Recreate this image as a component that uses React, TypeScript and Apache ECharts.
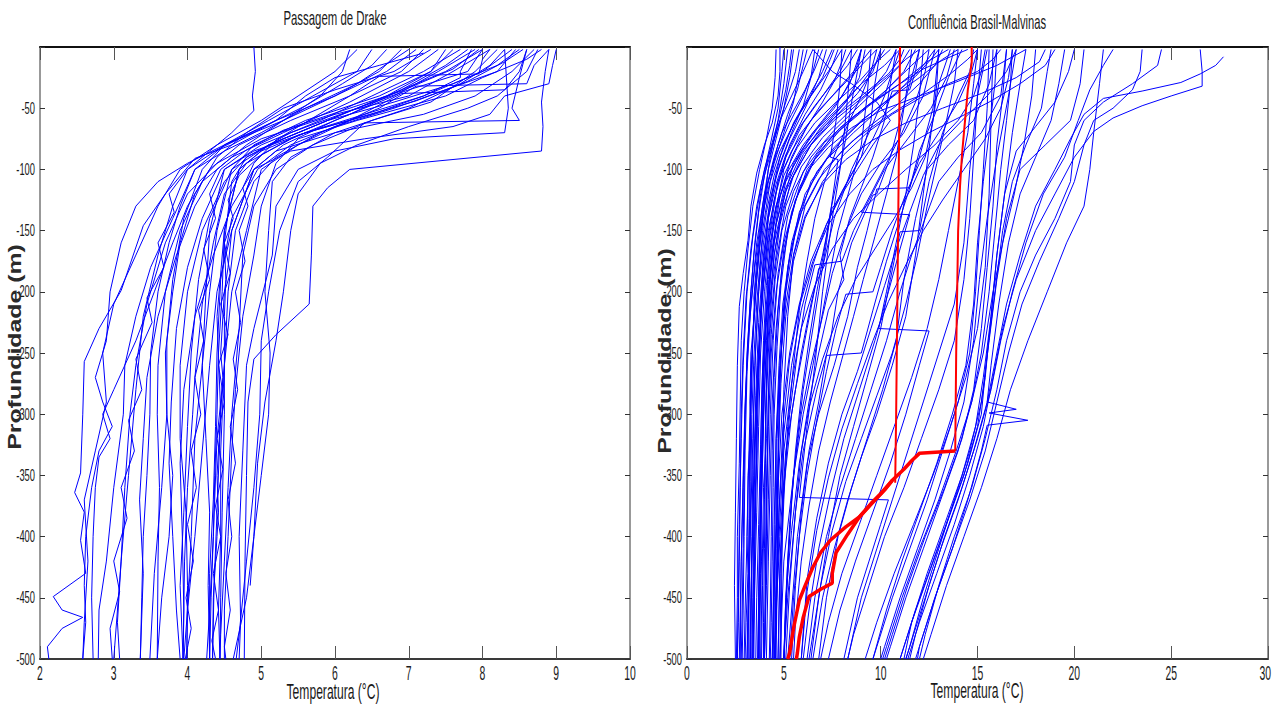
import React, { useEffect, useRef } from 'react';
import * as echarts from 'echarts';

// ---------- axis ranges / ticks ----------
const drakeTempTicks = [2, 3, 4, 5, 6, 7, 8, 9, 10];
const cbmTempTicks = [0, 5, 10, 15, 20, 25, 30];
const depthTicks = [-500, -450, -400, -350, -300, -250, -200, -150, -100, -50];
const depthMin = -500;
const depthMax = 0;
const depthStep = 50;

const leftTitle = 'Passagem de Drake';
const rightTitle = 'Confluência Brasil-Malvinas';
const xName = 'Temperatura (°C)';
const yName = 'Profundidade (m)';

// ---------- Passagem de Drake profiles: [temperature °C, depth m] ----------
const drakeProfiles: number[][][] = [
  [[8.9,-2],[8.85,-20],[8.8,-45],[8.82,-65],[8.8,-85],[6.2,-100],[5.9,-115],[5.7,-130],[5.68,-170],[5.65,-210],[5.2,-235],[4.9,-255],[4.82,-290],[4.8,-350],[4.78,-420],[4.77,-500]],
  [[8.7,-2],[8.4,-20],[7.9,-40],[7.2,-55],[6.0,-70],[5.2,-85],[4.9,-100],[4.6,-150],[4.55,-180],[4.5,-200],[4.45,-250],[4.48,-270],[4.45,-300],[4.4,-350],[4.42,-380],[4.4,-400],[4.35,-450],[4.34,-500]],
  [[8.5,-2],[8.2,-15],[7.6,-30],[6.8,-45],[5.9,-60],[5.1,-80],[4.7,-100],[4.5,-150],[4.47,-200],[4.42,-250],[4.4,-300],[4.37,-350],[4.35,-400],[4.32,-450],[4.3,-500]],
  [[8.0,-2],[7.8,-20],[7.0,-35],[6.3,-50],[5.4,-70],[4.8,-90],[4.6,-110],[4.5,-160],[4.52,-190],[4.5,-220],[4.5,-300],[4.47,-380],[4.45,-450],[4.44,-500]],
  [[7.6,-2],[7.3,-20],[6.6,-40],[5.6,-60],[4.9,-80],[4.6,-100],[4.4,-150],[4.3,-200],[4.2,-260],[4.1,-320],[4.05,-400],[4.0,-460],[3.99,-500]],
  [[8.8,-2],[8.6,-10],[8.0,-25],[7.5,-40],[6.3,-60],[5.5,-75],[5.2,-95],[5.0,-130],[4.9,-170],[4.75,-220],[4.65,-280],[4.6,-330],[4.55,-400],[4.5,-460],[4.5,-500]],
  [[6.9,-2],[6.6,-20],[6.0,-40],[5.3,-60],[4.5,-80],[4.1,-100],[3.9,-130],[3.75,-160],[3.6,-200],[3.5,-250],[3.49,-300],[3.45,-350],[3.4,-400],[3.38,-450],[3.36,-500]],
  [[7.2,-5],[6.6,-15],[6.0,-25],[5.6,-40],[5.2,-60],[4.6,-80],[4.1,-91],[3.7,-120],[3.4,-146],[3.1,-199],[2.8,-230],[2.6,-257],[2.58,-300],[2.55,-348],[2.47,-364],[2.6,-380],[2.55,-403],[2.62,-430],[2.18,-449],[2.3,-460],[2.58,-466],[2.3,-475],[2.1,-490],[2.12,-500]],
  [[7.2,-2],[6.9,-20],[6.2,-40],[5.4,-60],[4.7,-80],[4.3,-100],[4.0,-130],[3.8,-160],[3.55,-200],[3.3,-240],[3.0,-280],[2.85,-300],[2.95,-320],[2.8,-335],[2.75,-360],[2.72,-400],[2.7,-450],[2.72,-500]],
  [[7.9,-2],[7.4,-20],[6.8,-40],[6.0,-60],[5.3,-80],[4.9,-100],[4.6,-130],[4.35,-170],[4.1,-220],[3.95,-280],[3.9,-340],[3.93,-400],[3.95,-460],[3.94,-500]],
  [[8.3,-2],[8.1,-15],[7.7,-30],[7.0,-50],[6.0,-70],[5.4,-90],[5.15,-110],[5.1,-150],[5.05,-200],[5.12,-250],[5.1,-300],[5.0,-350],[4.9,-400],[4.8,-450],[4.62,-500]],
  [[8.6,-2],[8.5,-20],[8.3,-35],[6.9,-38],[6.2,-60],[5.5,-80],[5.0,-100],[4.8,-150],[4.6,-200],[4.5,-260],[4.4,-320],[4.35,-400],[4.3,-460],[4.26,-500]],
  [[7.4,-2],[7.0,-20],[6.2,-45],[5.3,-70],[4.6,-90],[4.2,-110],[3.9,-150],[3.7,-200],[3.6,-260],[3.59,-300],[3.62,-360],[3.6,-420],[3.59,-500]],
  [[6.5,-2],[6.3,-20],[5.7,-40],[5.1,-60],[4.5,-80],[4.2,-100],[3.95,-140],[3.8,-190],[3.72,-240],[3.72,-300],[3.65,-360],[3.55,-430],[3.49,-500]],
  [[8.1,-2],[7.6,-20],[7.0,-40],[6.0,-55],[5.0,-75],[4.4,-95],[4.0,-120],[3.7,-160],[3.45,-210],[3.3,-260],[3.22,-300],[3.15,-360],[3.1,-420],[3.05,-470],[3.08,-500]],
  [[7.0,-2],[6.8,-10],[6.3,-30],[5.6,-50],[5.0,-70],[4.5,-85],[4.1,-100],[3.8,-140],[3.5,-180],[3.3,-220],[3.15,-260],[3.13,-300],[3.0,-360],[2.9,-420],[2.8,-460],[2.79,-500]],
  [[8.4,-2],[8.0,-20],[7.2,-40],[6.5,-55],[5.6,-70],[4.9,-85],[4.5,-100],[4.3,-150],[4.25,-200],[4.2,-260],[4.25,-320],[4.3,-380],[4.28,-440],[4.3,-500]],
  [[7.8,-2],[7.5,-15],[6.9,-35],[6.2,-55],[5.4,-75],[4.8,-95],[4.5,-120],[4.35,-160],[4.2,-210],[4.1,-270],[4.07,-300],[4.0,-360],[3.96,-420],[3.94,-500]],
  [[8.2,-2],[7.9,-20],[7.3,-45],[6.5,-60],[5.7,-80],[5.2,-100],[4.9,-130],[4.75,-170],[4.7,-230],[4.6,-300],[4.55,-360],[4.5,-420],[4.45,-480],[4.44,-500]],
  [[8.6,-2],[8.5,-25],[8.4,-50],[8.5,-60],[6.4,-62],[5.9,-90],[5.5,-110],[5.25,-150],[5.1,-200],[5.0,-240],[4.98,-300],[4.9,-360],[4.8,-420],[4.7,-480],[4.66,-500]],
  [[6.3,-2],[6.0,-20],[5.5,-40],[5.0,-60],[4.4,-80],[3.9,-100],[3.6,-130],[3.3,-170],[3.0,-210],[2.85,-250],[2.9,-290],[2.75,-330],[2.6,-370],[2.65,-420],[2.6,-470],[2.58,-500]],
  [[7.7,-2],[7.2,-20],[6.5,-40],[5.8,-60],[5.0,-80],[4.5,-100],[4.2,-140],[4.0,-180],[3.85,-230],[3.78,-290],[3.75,-340],[3.8,-400],[3.85,-460],[3.9,-500]],
  [[8.75,-2],[8.6,-20],[8.2,-40],[7.8,-50],[7.0,-65],[6.3,-80],[5.8,-95],[5.5,-120],[5.4,-150],[5.3,-200],[5.2,-240],[5.05,-290],[4.95,-340],[4.9,-400],[4.85,-440]],
  [[7.3,-2],[6.8,-20],[6.0,-35],[5.3,-50],[4.8,-70],[4.4,-90],[4.1,-120],[3.9,-160],[3.8,-200],[3.7,-250],[3.72,-300],[3.8,-350],[3.75,-400],[3.65,-450],[3.59,-500]],
  [[8.0,-2],[7.5,-20],[6.7,-40],[6.1,-55],[5.3,-75],[4.8,-90],[4.5,-110],[4.2,-150],[4.0,-200],[3.9,-260],[3.9,-320],[3.98,-380],[4.0,-440],[3.99,-500]],
  [[8.45,-2],[8.2,-20],[7.5,-35],[6.8,-50],[6.0,-65],[5.4,-80],[4.95,-100],[4.6,-140],[4.45,-190],[4.4,-250],[4.38,-310],[4.35,-370],[4.3,-430],[4.3,-500]],
  [[7.1,-2],[6.7,-20],[6.0,-40],[5.2,-60],[4.5,-80],[4.0,-95],[3.6,-110],[3.3,-130],[3.1,-160],[2.95,-200],[2.9,-240],[2.75,-270],[2.85,-290],[2.98,-310],[2.8,-330],[2.7,-360],[2.62,-400],[2.6,-440],[2.62,-470],[2.58,-500]],
  [[7.5,-2],[7.3,-20],[6.7,-40],[5.9,-60],[5.1,-80],[4.6,-100],[4.3,-140],[4.15,-190],[4.05,-250],[4.0,-310],[3.95,-380],[3.9,-440],[3.94,-500]],
  [[8.9,-2],[8.7,-15],[8.6,-30],[7.1,-32],[6.6,-50],[5.8,-70],[5.2,-90],[4.9,-110],[4.65,-150],[4.55,-200],[4.5,-260],[4.45,-330],[4.45,-400],[4.42,-460],[4.44,-500]],
  [[6.2,-2],[6.1,-20],[5.8,-40],[5.3,-60],[4.8,-80],[4.4,-100],[4.1,-130],[3.85,-170],[3.6,-220],[3.45,-270],[3.4,-320],[3.35,-370],[3.4,-430],[3.36,-500]],
  [[7.85,-2],[7.7,-20],[7.7,-25],[7.2,-40],[6.4,-55],[5.6,-70],[5.0,-85],[4.7,-100],[4.5,-150],[4.4,-220],[4.45,-300],[4.4,-380],[4.36,-440],[4.34,-500]],
  [[4.9,0],[4.92,-20],[4.88,-40],[4.9,-52],[4.6,-70],[4.3,-85],[4.0,-100],[3.8,-130],[3.6,-170],[3.4,-220],[3.3,-280],[3.2,-350],[3.1,-420],[3.0,-500]],
  [[9.0,-2],[8.95,-15],[8.9,-30],[8.3,-40],[8.1,-55],[7.6,-65],[6.4,-75],[5.4,-85],[4.9,-100],[4.6,-150],[4.4,-200],[4.3,-260],[4.2,-330],[4.1,-400],[4.0,-460],[3.95,-500]],
  [[8.3,-2],[8.35,-50],[8.3,-70],[6.8,-75],[6.0,-85],[5.5,-100],[5.2,-130],[5.15,-170],[4.9,-230],[4.8,-260],[4.75,-330],[4.7,-400],[4.72,-470],[4.7,-500]],
  [[8.55,-2],[8.3,-12],[7.8,-28],[7.1,-44],[6.3,-58],[5.5,-72],[5.0,-88],[4.7,-105],[4.55,-125],[4.62,-140],[4.5,-160],[4.58,-185],[4.45,-210],[4.55,-235],[4.42,-260],[4.5,-290],[4.4,-320],[4.48,-345],[4.38,-375],[4.45,-400],[4.35,-430],[4.42,-460],[4.33,-485],[4.38,-500]],
  [[7.95,-2],[7.6,-18],[6.9,-36],[6.1,-52],[5.3,-68],[4.8,-84],[4.45,-100],[4.3,-120],[4.38,-140],[4.22,-165],[4.3,-190],[4.15,-215],[4.22,-240],[4.1,-270],[4.18,-300],[4.05,-330],[4.12,-360],[4.0,-390],[4.08,-420],[3.98,-450],[4.05,-475],[3.97,-500]],
  [[6.7,-2],[6.5,-15],[6.1,-30],[5.6,-48],[5.0,-66],[4.4,-84],[4.0,-100],[3.75,-120],[3.82,-135],[3.6,-160],[3.68,-180],[3.45,-205],[3.52,-225],[3.3,-255],[3.38,-280],[3.2,-305],[3.28,-330],[3.1,-360],[3.18,-385],[3.0,-420],[3.08,-445],[2.95,-475],[2.98,-500]],
  [[8.1,-2],[8.0,-10],[7.95,-22],[6.6,-24],[6.2,-40],[5.7,-58],[5.2,-76],[4.9,-95],[4.75,-115],[4.82,-130],[4.7,-150],[4.78,-175],[4.65,-200],[4.72,-225],[4.62,-255],[4.68,-280],[4.58,-310],[4.65,-340],[4.55,-370],[4.6,-400],[4.52,-430],[4.58,-460],[4.5,-490],[4.52,-500]],
];

// ---------- Confluência Brasil-Malvinas: cold (Malvinas) profiles ----------
const cbmColdProfiles: number[][][] = [
  [[4.8,0],[4.8,-20],[4.7,-40],[4.4,-62],[4.0,-80],[3.6,-103],[3.3,-130],[3.15,-158],[2.9,-185],[2.7,-212],[2.6,-260],[2.55,-320],[2.5,-380],[2.45,-440],[2.5,-500]],
  [[6.5,-2],[6.0,-20],[5.4,-40],[4.8,-60],[4.2,-90],[3.8,-120],[3.5,-160],[3.3,-200],[3.1,-250],[3.0,-300],[2.9,-360],[2.8,-420],[2.75,-500]],
  [[8.0,-2],[7.3,-20],[6.4,-40],[5.6,-60],[4.8,-85],[4.3,-110],[3.9,-150],[3.7,-200],[3.5,-260],[3.4,-320],[3.3,-380],[3.2,-440],[3.1,-500]],
  [[9.5,-2],[8.6,-20],[7.5,-40],[6.4,-60],[5.4,-85],[4.7,-110],[4.3,-150],[4.0,-200],[3.8,-250],[3.7,-310],[3.6,-380],[3.5,-440],[3.4,-500]],
  [[5.5,-2],[5.3,-25],[5.0,-50],[4.6,-75],[4.2,-100],[3.9,-140],[3.6,-190],[3.4,-240],[3.3,-300],[3.25,-360],[3.2,-430],[3.15,-500]],
  [[11,-2],[10.2,-15],[9.0,-30],[7.8,-50],[6.5,-70],[5.5,-95],[4.9,-130],[4.5,-170],[4.2,-220],[4.0,-280],[3.9,-340],[3.8,-400],[3.7,-460],[3.65,-500]],
  [[7.2,-2],[6.8,-25],[6.1,-50],[5.3,-75],[4.6,-105],[4.2,-140],[3.9,-190],[3.75,-240],[3.6,-300],[3.55,-360],[3.5,-420],[3.45,-500]],
  [[12.5,-2],[11.6,-15],[10.3,-35],[8.8,-55],[7.4,-75],[6.2,-100],[5.4,-135],[4.9,-180],[4.6,-230],[4.4,-290],[4.3,-350],[4.2,-420],[4.1,-500]],
  [[9,-2],[8.4,-30],[7.6,-50],[6.8,-65],[5.9,-85],[5.1,-110],[4.6,-145],[4.3,-190],[4.1,-240],[3.95,-300],[3.85,-370],[3.8,-430],[3.75,-500]],
  [[6.0,-2],[5.8,-20],[5.5,-45],[5.0,-70],[4.5,-95],[4.0,-130],[3.7,-170],[3.45,-220],[3.3,-270],[3.2,-330],[3.1,-400],[3.0,-460],[2.95,-500]],
  [[13.5,-2],[12.4,-12],[11,-30],[9.4,-48],[7.9,-68],[6.6,-92],[5.6,-125],[5.0,-165],[4.7,-215],[4.5,-270],[4.4,-330],[4.35,-400],[4.3,-460],[4.25,-500]],
  [[8.5,-2],[7.9,-20],[7.0,-40],[6.0,-62],[5.1,-90],[4.5,-125],[4.1,-165],[3.85,-215],[3.7,-270],[3.6,-330],[3.5,-400],[3.45,-460],[3.4,-500]],
  [[10,-2],[9.6,-20],[8.8,-38],[7.6,-58],[6.4,-80],[5.4,-108],[4.8,-145],[4.4,-195],[4.2,-250],[4.05,-310],[4.0,-370],[3.9,-440],[3.85,-500]],
  [[7.8,-2],[7.5,-15],[6.9,-35],[6.1,-55],[5.3,-80],[4.7,-110],[4.2,-150],[3.9,-200],[3.65,-260],[3.5,-320],[3.4,-390],[3.3,-450],[3.25,-500]],
  [[14,-2],[13.2,-10],[12,-25],[10.5,-42],[9,-60],[7.6,-82],[6.4,-110],[5.6,-150],[5.1,-200],[4.8,-260],[4.65,-320],[4.6,-390],[4.5,-450],[4.45,-500]],
  [[5.2,-2],[5.0,-30],[4.7,-60],[4.3,-90],[3.9,-130],[3.5,-180],[3.2,-230],[3.0,-290],[2.9,-350],[2.8,-420],[2.7,-500]],
  [[11.8,-2],[11.2,-20],[10.0,-40],[8.5,-58],[7.1,-78],[6.0,-102],[5.2,-138],[4.7,-185],[4.45,-240],[4.3,-300],[4.2,-370],[4.1,-440],[4.0,-500]],
  [[9.2,-2],[8.9,-25],[8.2,-45],[7.1,-65],[6.0,-88],[5.1,-118],[4.5,-160],[4.1,-210],[3.9,-265],[3.8,-325],[3.7,-390],[3.6,-450],[3.55,-500]],
  [[6.8,-2],[6.5,-20],[6.0,-40],[5.3,-62],[4.6,-88],[4.0,-120],[3.6,-160],[3.3,-210],[3.1,-265],[3.0,-330],[2.95,-400],[2.9,-460],[2.85,-500]],
  [[12.8,-2],[12.2,-15],[11.3,-30],[10,-50],[8.6,-70],[7.2,-92],[6.1,-120],[5.4,-160],[5.0,-210],[4.8,-270],[4.7,-340],[4.65,-410],[4.6,-470],[4.55,-500]],
  [[8.2,-2],[8.0,-12],[7.6,-28],[7.0,-45],[6.2,-65],[5.4,-90],[4.8,-122],[4.4,-165],[4.2,-215],[4.1,-275],[4.05,-340],[4.0,-410],[3.95,-470],[3.95,-500]],
  [[15,-2],[14.5,-10],[13.6,-22],[12.2,-38],[10.4,-56],[8.6,-76],[7.1,-100],[6.1,-130],[5.5,-170],[5.2,-220],[5.0,-280],[4.95,-350],[4.9,-420],[4.85,-500]],
  [[10.8,-2],[10.3,-20],[9.5,-36],[8.3,-54],[7.0,-74],[5.9,-98],[5.1,-130],[4.6,-175],[4.3,-230],[4.2,-290],[4.1,-360],[4.05,-430],[4.0,-500]],
  [[7.5,-2],[7.0,-20],[6.3,-40],[5.5,-62],[4.8,-90],[4.3,-125],[3.95,-170],[3.7,-225],[3.55,-285],[3.45,-350],[3.35,-420],[3.3,-480],[3.28,-500]],
  [[13,-2],[12.6,-10],[11.8,-24],[10.6,-40],[9.2,-58],[7.9,-78],[6.7,-102],[5.8,-135],[5.2,-180],[4.9,-235],[4.75,-300],[4.7,-370],[4.65,-440],[4.6,-500]],
  [[5.0,-2],[4.9,-20],[4.7,-50],[4.3,-80],[3.8,-115],[3.4,-155],[3.1,-200],[2.9,-260],[2.8,-320],[2.7,-390],[2.65,-450],[2.6,-500]],
  [[9.8,-2],[9.0,-15],[8.0,-32],[6.9,-50],[5.8,-72],[5.0,-100],[4.5,-140],[4.2,-190],[4.0,-245],[3.9,-305],[3.8,-375],[3.7,-445],[3.7,-500]],
  [[6.2,-2],[6.0,-15],[5.7,-35],[5.2,-55],[4.7,-80],[4.2,-110],[3.8,-150],[3.5,-200],[3.35,-255],[3.25,-315],[3.2,-385],[3.15,-455],[3.1,-500]],
  [[7.0,-2],[6.6,-18],[6.1,-35],[5.4,-55],[4.9,-70],[4.5,-90],[4.1,-115],[3.85,-140],[3.6,-175],[3.45,-205],[3.5,-215],[3.3,-250],[3.25,-290],[3.3,-310],[3.15,-350],[3.1,-400],[3.15,-430],[3.05,-470],[3.0,-500]],
  [[10.5,-2],[9.8,-12],[8.9,-28],[7.7,-45],[6.6,-62],[5.7,-82],[5.0,-105],[4.6,-130],[4.3,-160],[4.15,-190],[4.2,-205],[4.0,-240],[3.9,-280],[3.95,-300],[3.85,-340],[3.8,-390],[3.85,-420],[3.75,-460],[3.7,-500]],
  [[4.6,-2],[4.55,-25],[4.4,-50],[4.1,-75],[3.75,-100],[3.4,-130],[3.15,-165],[2.95,-200],[2.8,-240],[2.75,-290],[2.7,-340],[2.6,-400],[2.6,-450],[2.55,-500]],
  [[12.0,-2],[11.3,-10],[10.3,-25],[9.0,-42],[7.6,-60],[6.4,-80],[5.5,-105],[4.9,-135],[4.5,-170],[4.3,-210],[4.15,-250],[4.05,-300],[4.1,-320],[3.95,-360],[3.9,-410],[3.85,-460],[3.8,-500]],
  [[8.8,-2],[8.3,-15],[7.5,-30],[6.6,-48],[5.8,-66],[5.1,-88],[4.6,-112],[4.2,-140],[3.95,-175],[3.8,-215],[3.7,-255],[3.6,-300],[3.62,-330],[3.5,-370],[3.45,-420],[3.4,-470],[3.4,-500]],
  [[5.8,-2],[5.6,-20],[5.2,-40],[4.8,-60],[4.4,-82],[4.0,-105],[3.7,-135],[3.45,-170],[3.25,-210],[3.1,-255],[3.0,-300],[2.95,-350],[2.9,-410],[2.85,-460],[2.8,-500]],
  [[14.5,-2],[13.6,-8],[12.2,-18],[10.8,-32],[9.3,-48],[7.9,-66],[6.7,-88],[5.8,-115],[5.2,-150],[4.85,-195],[4.65,-245],[4.5,-300],[4.45,-360],[4.4,-420],[4.35,-470],[4.3,-500]],
  [[9.0,-2],[8.7,-20],[8.0,-40],[7.0,-60],[6.0,-80],[5.2,-102],[4.7,-128],[4.35,-158],[4.1,-195],[3.95,-240],[3.85,-290],[3.8,-340],[3.75,-400],[3.7,-450],[3.65,-500]],
  [[6.6,-2],[6.4,-25],[6.0,-48],[5.4,-70],[4.8,-95],[4.3,-125],[3.95,-160],[3.7,-200],[3.55,-245],[3.45,-295],[3.4,-345],[3.35,-400],[3.3,-455],[3.3,-500]],
  [[11.5,-2],[11.0,-15],[10.1,-30],[8.9,-48],[7.6,-68],[6.4,-90],[5.5,-118],[4.9,-150],[4.55,-190],[4.35,-235],[4.2,-285],[4.15,-340],[4.1,-400],[4.05,-460],[4.0,-500]],
  [[7.6,-2],[7.4,-10],[7.0,-25],[6.3,-42],[5.6,-60],[5.0,-80],[4.5,-105],[4.1,-135],[3.8,-170],[3.6,-210],[3.45,-255],[3.35,-300],[3.3,-355],[3.25,-410],[3.2,-460],[3.2,-500]],
  [[13.2,-2],[12.8,-15],[12.0,-30],[10.8,-48],[9.4,-65],[8.0,-85],[6.8,-108],[5.9,-135],[5.3,-170],[4.95,-210],[4.75,-260],[4.6,-320],[4.55,-380],[4.5,-440],[4.5,-500]],
  [[5.4,-2],[5.3,-15],[5.1,-35],[4.8,-55],[4.4,-78],[4.0,-100],[3.6,-130],[3.3,-165],[3.05,-205],[2.9,-250],[2.8,-300],[2.75,-360],[2.7,-420],[2.65,-470],[2.6,-500]],
  [[10.2,-2],[9.7,-15],[9.0,-30],[8.0,-48],[6.9,-66],[5.9,-88],[5.1,-115],[4.6,-145],[4.3,-180],[4.1,-225],[3.95,-275],[3.85,-330],[3.8,-390],[3.75,-450],[3.7,-500]],
  [[17.5,-2],[16.0,-15],[14.0,-28],[12.0,-40],[10.0,-52],[8.5,-66],[7.3,-82],[6.3,-100],[5.6,-125],[5.0,-160],[4.6,-200],[4.35,-250],[4.2,-310],[4.1,-380],[4.05,-450],[4.0,-500]],
  [[16.2,-2],[15.8,-10],[15.0,-20],[13.5,-30],[12.0,-42],[10.6,-55],[9.3,-70],[8.1,-88],[7.0,-110],[6.1,-140],[5.5,-175],[5.1,-220],[4.85,-275],[4.7,-340],[4.6,-410],[4.55,-500]],
  [[18.5,-2],[18.2,-12],[17.0,-25],[15.2,-38],[13.2,-50],[11.3,-62],[9.6,-76],[8.2,-92],[7.0,-112],[6.1,-138],[5.5,-170],[5.1,-210],[4.8,-260],[4.6,-320],[4.5,-390],[4.45,-460],[4.4,-500]],
  [[11.2,-2],[11.0,-10],[10.4,-22],[9.4,-35],[8.2,-50],[7.0,-66],[6.0,-84],[5.2,-105],[4.6,-130],[4.2,-160],[3.9,-200],[3.7,-250],[3.55,-310],[3.45,-380],[3.4,-450],[3.35,-500]],
  [[19.0,-2],[18.5,-15],[17.2,-30],[15.6,-45],[14.0,-58],[12.5,-70],[11.0,-84],[9.6,-100],[8.4,-120],[7.3,-145],[6.5,-175],[5.8,-212],[5.3,-255],[4.95,-310],[4.75,-380],[4.6,-450],[4.55,-500]],
];

// ---------- Confluência Brasil-Malvinas: mixing-zone profiles ----------
const cbmMixProfiles: number[][][] = [
  [[9.5,-2],[9.3,-40],[9.0,-80],[8.5,-110],[7.8,-150],[7.2,-200],[6.5,-260],[6.0,-300],[5.5,-350],[5.0,-420],[4.8,-500]],
  [[12,-2],[11.5,-30],[11,-60],[10.5,-90],[9.8,-120],[9.6,-121],[8.5,-160],[7.8,-200],[7.4,-240],[6.7,-280],[6.0,-330],[5.6,-380],[5.2,-450],[5.0,-500]],
  [[14.2,-2],[13.5,-25],[12.8,-55],[12.0,-85],[11.5,-115],[9.8,-116],[9.3,-150],[8.8,-180],[8.3,-220],[7.6,-260],[6.8,-300],[6.2,-340],[5.7,-400],[5.4,-460],[5.2,-500]],
  [[11,-2],[10.6,-20],[10.2,-40],[9.4,-70],[8.5,-100],[7.6,-140],[7.0,-180],[6.8,-181],[6.2,-230],[5.6,-280],[5.1,-330],[4.8,-400],[4.6,-460],[4.5,-500]],
  [[13.6,-2],[13.0,-30],[12.6,-70],[12.2,-120],[11.8,-170],[11.3,-220],[10.6,-260],[9.8,-300],[9.0,-335],[8.3,-370],[7.6,-410],[7.0,-450],[6.5,-500]],
  [[15.5,-2],[15.0,-40],[14.6,-100],[14.3,-160],[13.8,-210],[13.0,-250],[12.2,-290],[11.4,-330],[10.6,-370],[9.8,-410],[9.0,-450],[8.3,-500]],
  [[8.5,-2],[8.3,-40],[8.0,-90],[7.5,-140],[7.0,-200],[6.6,-260],[6.2,-310],[5.8,-368],[10.4,-370],[10.0,-390],[9.4,-420],[8.8,-450],[8.1,-500]],
  [[16,-2],[15.6,-30],[14.8,-60],[13.5,-80],[12.4,-100],[11.8,-140],[11.2,-190],[10.8,-240],[10.1,-280],[9.3,-320],[8.5,-360],[7.8,-400],[7.2,-450],[6.8,-500]],
  [[12.8,-2],[12.2,-40],[11.2,-70],[10.0,-95],[9.0,-120],[8.2,-150],[7.5,-185],[7.0,-220],[6.4,-260],[5.9,-300],[5.5,-350],[5.2,-420],[5.0,-500]],
  [[14.8,-2],[14.6,-20],[14.0,-40],[13.2,-70],[12.5,-110],[12.0,-150],[11.0,-151],[10.5,-190],[10.0,-230],[9.3,-270],[8.6,-310],[7.9,-350],[7.3,-400],[6.8,-450],[6.4,-500]],
  [[10.0,-2],[9.7,-30],[9.5,-60],[9.0,-90],[8.3,-110],[7.6,-130],[7.5,-131],[7.0,-170],[6.4,-210],[5.9,-250],[5.4,-300],[5.0,-360],[4.8,-430],[4.7,-500]],
  [[13.0,-2],[12.7,-50],[12.0,-90],[11.2,-130],[10.3,-175],[9.6,-215],[9.0,-250],[7.2,-252],[6.8,-290],[6.3,-330],[5.9,-380],[5.6,-440],[5.4,-500]],
  [[10.8,-2],[10.5,-30],[10.2,-60],[9.6,-90],[9.0,-115],[8.4,-140],[7.9,-170],[8.1,-190],[7.3,-215],[6.8,-250],[6.3,-290],[5.9,-330],[5.6,-380],[5.3,-440],[5.1,-500]],
  [[13.8,-2],[13.4,-25],[12.6,-50],[11.4,-75],[10.2,-100],[9.4,-125],[8.6,-150],[8.0,-175],[6.6,-178],[6.1,-210],[5.7,-250],[5.3,-300],[5.0,-360],[4.8,-420],[4.7,-500]],
  [[16.5,-2],[16.2,-40],[15.2,-70],[14.0,-90],[13.0,-110],[12.3,-140],[11.6,-170],[11.0,-200],[10.3,-240],[9.5,-280],[8.7,-320],[7.9,-360],[7.2,-400],[6.6,-450],[6.2,-500]],
  [[12.5,-2],[12.3,-20],[11.8,-45],[11.1,-70],[10.3,-95],[9.5,-120],[9.0,-135],[11.5,-137],[11.0,-165],[10.4,-200],[9.7,-240],[8.9,-280],[8.1,-320],[7.4,-365],[6.8,-410],[6.3,-460],[6.0,-500]],
  [[9.0,-2],[8.8,-20],[8.5,-45],[8.2,-75],[7.8,-105],[7.4,-135],[7.1,-165],[6.7,-200],[6.3,-240],[5.9,-285],[5.6,-330],[5.3,-390],[5.1,-450],[5.0,-500]],
  [[15.0,-2],[14.7,-20],[14.0,-45],[13.0,-70],[12.0,-95],[11.3,-120],[10.6,-150],[10.0,-180],[9.6,-200],[8.2,-202],[7.7,-230],[7.2,-265],[6.7,-305],[6.2,-350],[5.8,-400],[5.5,-450],[5.3,-500]],
  [[11.6,-2],[11.4,-30],[11.1,-60],[10.8,-90],[10.3,-120],[9.7,-155],[9.1,-190],[8.6,-220],[8.0,-255],[7.4,-290],[6.8,-330],[6.3,-375],[5.9,-420],[5.6,-470],[5.5,-500]],
  [[14.0,-2],[13.8,-30],[13.4,-60],[12.9,-95],[12.4,-130],[11.9,-170],[11.3,-210],[10.6,-250],[9.8,-285],[9.0,-320],[8.2,-355],[7.5,-395],[6.9,-440],[6.4,-490],[6.3,-500]],
  [[8.0,-2],[7.9,-30],[7.7,-60],[7.4,-90],[7.8,-92],[7.5,-125],[7.2,-160],[6.8,-200],[6.4,-240],[6.0,-280],[5.7,-320],[5.4,-370],[5.2,-430],[5.0,-500]],
  [[17.0,-2],[16.5,-20],[15.5,-40],[14.2,-60],[13.0,-80],[12.2,-105],[11.5,-135],[10.8,-165],[10.2,-195],[9.5,-230],[8.8,-265],[8.0,-300],[7.3,-340],[6.7,-385],[6.2,-435],[5.9,-500]],
  [[12.2,-2],[12.0,-40],[11.7,-80],[11.3,-120],[10.8,-160],[10.3,-200],[9.9,-230],[12.5,-232],[12.0,-260],[11.3,-300],[10.5,-340],[9.6,-380],[8.7,-420],[7.9,-460],[7.3,-500]],
  [[9.8,-2],[9.5,-20],[9.0,-40],[8.4,-60],[7.7,-85],[7.1,-110],[6.6,-140],[6.2,-175],[5.8,-215],[5.5,-260],[5.2,-310],[5.0,-370],[4.85,-430],[4.8,-500]],
  [[6.5,-2],[7.5,-20],[8.5,-30],[9.8,-45],[10.5,-60],[9.6,-80],[8.8,-100],[8.0,-120],[7.2,-145],[6.4,-175],[5.8,-210],[5.3,-250],[4.9,-300],[4.7,-360],[4.5,-430],[4.4,-500]],
  [[12.0,-2],[11.8,-20],[11.5,-35],[10.6,-36],[10.2,-55],[9.6,-75],[8.8,-95],[8.0,-118],[7.2,-145],[6.5,-178],[5.9,-215],[5.4,-260],[5.0,-315],[4.75,-380],[4.6,-450],[4.55,-500]],
  [[15.4,-2],[15.2,-20],[14.8,-40],[14.0,-60],[12.8,-80],[11.3,-100],[9.9,-120],[8.6,-140],[7.5,-165],[6.6,-195],[5.9,-230],[5.4,-275],[5.0,-330],[4.75,-400],[4.6,-470],[4.55,-500]],
  [[13.0,-2],[12.9,-30],[12.7,-60],[12.3,-90],[11.6,-115],[10.7,-140],[9.7,-165],[8.7,-190],[7.8,-220],[7.0,-255],[6.3,-295],[5.8,-340],[5.4,-395],[5.1,-450],[5.0,-500]],
  [[16.8,-2],[16.6,-25],[16.2,-50],[15.4,-75],[14.3,-100],[13.2,-125],[12.2,-150],[11.3,-178],[10.4,-208],[9.6,-240],[8.8,-275],[8.0,-312],[7.3,-352],[6.7,-395],[6.2,-445],[5.9,-500]],
];

// ---------- Confluência Brasil-Malvinas: warm (Brasil) profiles ----------
const cbmWarmProfiles: number[][][] = [
  [[16.5,-2],[16.3,-40],[16.0,-80],[15.8,-130],[15.5,-180],[15.2,-230],[14.8,-280],[14.2,-320],[13.3,-360],[12.3,-400],[11.4,-440],[10.6,-480],[10.2,-500]],
  [[17.5,-2],[17.2,-30],[16.8,-70],[16.4,-120],[16.0,-170],[15.7,-220],[15.3,-270],[14.9,-310],[14.2,-350],[13.3,-390],[12.4,-430],[11.6,-470],[11.2,-500]],
  [[20.5,-2],[20.3,-30],[19.8,-60],[18.5,-80],[17.2,-100],[16.5,-140],[16.0,-190],[15.6,-240],[15.2,-290],[14.6,-330],[13.8,-370],[13.0,-410],[12.2,-450],[11.5,-490],[11.3,-500]],
  [[15.2,-2],[15.0,-40],[14.8,-90],[14.6,-140],[14.3,-190],[13.8,-240],[13.0,-280],[12.1,-320],[11.2,-360],[10.2,-400],[9.4,-440],[8.6,-480],[8.3,-500]],
  [[21.5,-2],[21.3,-30],[21.0,-70],[20.8,-100],[20.5,-130],[19.6,-160],[18.6,-200],[17.6,-240],[16.7,-280],[16.0,-320],[15.2,-360],[14.3,-400],[13.4,-440],[12.6,-480],[12.2,-500]],
  [[18.8,-2],[18.6,-20],[18.3,-50],[17.5,-80],[16.8,-110],[16.3,-150],[15.9,-200],[15.5,-250],[15.2,-300],[14.5,-340],[13.6,-380],[12.7,-420],[11.8,-460],[11.0,-500]],
  [[16.0,-2],[15.9,-30],[15.6,-70],[15.3,-110],[15.0,-160],[14.8,-210],[14.4,-260],[13.7,-300],[12.9,-340],[12.0,-380],[11.1,-420],[10.3,-460],[9.6,-500]],
  [[19.5,-2],[19.2,-30],[18.8,-60],[18.0,-90],[17.2,-120],[16.6,-160],[16.1,-210],[15.7,-260],[15.5,-290],[17.0,-296],[15.6,-299],[17.6,-305],[15.5,-309],[15.2,-330],[14.5,-370],[13.7,-410],[12.8,-450],[12.0,-490],[11.8,-500]],
  [[17.0,-2],[16.6,-40],[16.0,-90],[15.5,-140],[15.1,-190],[14.8,-240],[14.3,-290],[13.6,-330],[12.8,-370],[11.9,-410],[11.0,-450],[10.2,-490],[10.0,-500]],
  [[22.0,-2],[21.5,-15],[20.8,-35],[20.2,-60],[19.5,-90],[18.4,-120],[17.5,-160],[16.8,-200],[16.2,-240],[15.7,-280],[15.0,-320],[14.2,-360],[13.3,-400],[12.5,-440],[11.8,-480],[11.5,-500]],
  [[15.6,-2],[15.5,-50],[15.3,-100],[15.1,-150],[14.9,-200],[14.6,-250],[14.0,-290],[13.2,-330],[12.4,-370],[11.5,-410],[10.6,-450],[9.8,-490],[9.6,-500]],
  [[27.7,-8],[27.3,-15],[26.5,-22],[25.5,-29],[23.5,-36],[21.5,-42],[20.5,-55],[19.8,-75],[19.0,-100],[18.0,-130],[17.2,-170],[16.5,-210],[16.0,-250],[15.5,-290],[14.8,-330],[14.0,-370],[13.1,-410],[12.3,-450],[11.5,-490],[11.3,-500]],
  [[26.5,-2],[26.6,-20],[26.6,-32],[25.0,-40],[23.5,-48],[22.0,-58],[21.0,-69],[20.0,-90],[19.0,-120],[18.0,-150],[17.0,-190],[16.3,-230],[15.8,-270],[15.3,-310],[14.6,-350],[13.8,-390],[12.9,-430],[12.0,-470],[11.4,-500]],
  [[23.5,-2],[23.4,-20],[23.0,-35],[22.0,-50],[21.0,-60],[20.5,-80],[20.0,-110],[19.2,-140],[18.2,-175],[17.3,-210],[16.6,-250],[16.0,-290],[15.4,-330],[14.6,-370],[13.7,-410],[12.8,-450],[12.0,-490],[11.9,-500]],
  [[18.0,-2],[17.8,-40],[17.4,-80],[16.9,-120],[16.3,-160],[15.8,-200],[15.3,-250],[14.7,-290],[13.9,-330],[13.0,-370],[12.0,-410],[11.1,-450],[10.3,-490],[10.1,-500]],
  [[15.0,-2],[14.8,-30],[14.5,-70],[14.0,-110],[13.5,-150],[13.0,-190],[12.4,-230],[11.6,-270],[10.7,-310],[9.8,-350],[8.9,-390],[8.0,-430],[7.3,-470],[6.9,-500]],
  [[20.0,-2],[19.7,-20],[19.0,-45],[18.0,-65],[17.0,-85],[16.4,-120],[16.0,-170],[15.7,-220],[15.4,-270],[15.0,-310],[14.3,-350],[13.4,-390],[12.5,-430],[11.6,-470],[11.0,-500]],
  [[16.8,-2],[16.7,-30],[16.5,-60],[16.2,-100],[15.9,-150],[15.6,-200],[15.2,-250],[14.7,-290],[14.0,-330],[13.1,-370],[12.2,-410],[11.3,-450],[10.5,-490],[10.3,-500]],
  [[24.5,-2],[24.3,-15],[23.0,-30],[21.5,-45],[20.5,-60],[20.0,-80],[19.8,-110],[19.0,-140],[18.0,-170],[17.2,-200],[16.5,-240],[16.0,-280],[15.4,-320],[14.7,-360],[13.8,-400],[13.0,-440],[12.3,-480],[12.0,-500]],
  [[15.8,-2],[15.7,-60],[15.6,-120],[15.4,-180],[15.0,-230],[14.4,-270],[13.6,-310],[12.7,-350],[11.7,-390],[10.7,-430],[9.8,-470],[9.2,-500]],
];

// ---------- highlighted (red) profile ----------
const redThinProfiles: number[][][] = [
  [[11.0,0],[10.9,-150],[10.8,-300],[10.75,-356]],
  [[14.7,0],[14.7,-13],[14.5,-35],[14.3,-70],[14.2,-88],[14.1,-113],[14.0,-150],[13.9,-250],[13.85,-330]],
];
const redThickProfiles: number[][][] = [
  [[13.85,-330],[12.0,-332],[11.6,-338],[11.2,-345],[10.6,-354],[10.0,-365],[9.5,-373],[8.9,-384],[8.2,-392],[7.4,-403],[6.9,-413],[6.5,-425],[6.1,-440],[5.8,-452],[5.5,-475],[5.3,-495],[5.2,-500]],
  [[10.6,-354],[10.2,-362],[9.6,-372],[8.9,-384],[8.3,-398],[7.7,-413],[7.5,-430],[7.5,-438],[6.9,-443],[6.3,-449],[6.0,-466],[5.8,-482],[5.7,-495],[5.65,-500]],
];

const BLUE = '#0000ff';
const RED = '#ff0000';
const SANS = "'Liberation Sans', Arial, sans-serif";
const PAGE_W = 1272;

function lineSeries(data: number[][], axisIdx: number, color: string, width: number) {
  return {
    type: 'line',
    data,
    xAxisIndex: axisIdx,
    yAxisIndex: axisIdx,
    showSymbol: false,
    symbol: 'none',
    silent: true,
    clip: true,
    lineStyle: { color, width },
  };
}

function xAxisPair(grid: number, ticks: number[]) {
  const min = ticks[0];
  const max = ticks[ticks.length - 1];
  const step = ticks[1] - ticks[0];
  return [
    {
      gridIndex: grid, type: 'value', position: 'bottom', min, max, interval: step,
      axisLine: { show: true, onZero: false, lineStyle: { color: '#3a3a3a', width: 2 } },
      axisTick: { show: true, inside: true, length: 13, lineStyle: { color: '#555', width: 1 } },
      axisLabel: { show: false },
      splitLine: { show: false },
    },
    {
      gridIndex: grid, type: 'value', position: 'top', min, max, interval: step,
      axisLine: { show: true, onZero: false, lineStyle: { color: '#111', width: 2 } },
      axisTick: { show: true, inside: true, length: 13, lineStyle: { color: '#555', width: 1 } },
      axisLabel: { show: false },
      splitLine: { show: false },
    },
  ];
}

function yAxisPair(grid: number) {
  return [
    {
      gridIndex: grid, type: 'value', position: 'left', min: depthMin, max: depthMax, interval: depthStep,
      axisLine: { show: true, onZero: false, lineStyle: { color: '#777', width: 1.5 } },
      axisTick: { show: true, inside: true, length: 5, lineStyle: { color: '#333', width: 1 } },
      axisLabel: { show: false },
      splitLine: { show: false },
    },
    {
      gridIndex: grid, type: 'value', position: 'right', min: depthMin, max: depthMax, interval: depthStep,
      axisLine: { show: true, onZero: false, lineStyle: { color: '#777', width: 1.5 } },
      axisTick: { show: true, inside: true, length: 5, lineStyle: { color: '#333', width: 1 } },
      axisLabel: { show: false },
      splitLine: { show: false },
    },
  ];
}

function label(text: string, x: number, y: number, size: number, sx: number, align: string, extra: any = {}) {
  const { style: extraStyle, ...rest } = extra;
  return {
    type: 'text', x, y, scaleX: sx, silent: true, ...rest,
    style: { text, fontFamily: SANS, fontSize: size, fill: '#1a1a1a', textAlign: align, textVerticalAlign: 'middle', ...(extraStyle || {}) },
  };
}

export default function App() {
  const ref = useRef<HTMLDivElement>(null);

  useEffect(() => {
    if (!ref.current) return;
    const chart = echarts.init(ref.current, null, { renderer: 'svg' });

    const [lx0, lx1] = xAxisPair(0, drakeTempTicks);
    const [rx0, rx1] = xAxisPair(1, cbmTempTicks);
    const [ly0, ly1] = yAxisPair(0);
    const [ry0, ry1] = yAxisPair(1);

    const series: any[] = [];
    drakeProfiles.forEach((p) => series.push(lineSeries(p, 0, BLUE, 1)));
    cbmColdProfiles.forEach((p) => series.push(lineSeries(p, 2, BLUE, 1)));
    cbmMixProfiles.forEach((p) => series.push(lineSeries(p, 2, BLUE, 1)));
    cbmWarmProfiles.forEach((p) => series.push(lineSeries(p, 2, BLUE, 1)));
    redThinProfiles.forEach((p) => series.push(lineSeries(p, 2, RED, 2)));
    redThickProfiles.forEach((p) => series.push(lineSeries(p, 2, RED, 3.5)));

    chart.setOption({
      animation: false,
      backgroundColor: '#ffffff',
      textStyle: { fontFamily: SANS },
      grid: [
        { left: 40, right: 642, top: 47, bottom: 57, containLabel: false },
        { left: 687, right: 4, top: 47, bottom: 57, containLabel: false },
      ],
      xAxis: [lx0, lx1, rx0, rx1],
      yAxis: [ly0, ly1, ry0, ry1],
      series,
    });

    // tick labels placed through the axes' own scales
    const graphics: any[] = [];
    const panels = [
      { xi: 0, yi: 0, ticks: drakeTempTicks },
      { xi: 2, yi: 2, ticks: cbmTempTicks },
    ];
    panels.forEach(({ xi, yi, ticks }) => {
      const bottomY = chart.convertToPixel({ yAxisIndex: yi }, depthMin) as number;
      const leftX = chart.convertToPixel({ xAxisIndex: xi }, ticks[0]) as number;
      ticks.forEach((t) => {
        const px = chart.convertToPixel({ xAxisIndex: xi }, t) as number;
        const text = String(t);
        const halfW = text.length * 0.556 * 20 * 0.52 / 2;
        if (px + halfW > PAGE_W - 1) {
          graphics.push(label(text, PAGE_W - 1, bottomY + 14, 20, 0.52, 'right'));
        } else {
          graphics.push(label(text, px, bottomY + 14, 20, 0.52, 'center'));
        }
      });
      depthTicks.forEach((d) => {
        const py = chart.convertToPixel({ yAxisIndex: yi }, d) as number;
        graphics.push(label(String(d), leftX - 5, py, 17, 0.55, 'right'));
      });
    });

    graphics.push(label(leftTitle, 335, 18, 20, 0.57, 'center'));
    graphics.push(label(rightTitle, 977, 22, 20, 0.56, 'center'));
    graphics.push(label(xName, 333, 692, 22, 0.55, 'center'));
    graphics.push(label(xName, 977, 691, 22, 0.55, 'center'));
    graphics.push(label(yName, 15, 347, 18, 1.38, 'center', { rotation: Math.PI / 2, style: { fontWeight: 'bold', fill: '#2a2a2a' } }));
    graphics.push(label(yName, 665, 351, 18, 1.38, 'center', { rotation: Math.PI / 2, style: { fontWeight: 'bold', fill: '#2a2a2a' } }));

    chart.setOption({ graphic: graphics });
    return () => chart.dispose();
  }, []);

  return (
    <div
      ref={ref}
      style={{ position: 'fixed', left: 0, top: 0, width: PAGE_W, height: 716, background: '#fff' }}
    />
  );
}
